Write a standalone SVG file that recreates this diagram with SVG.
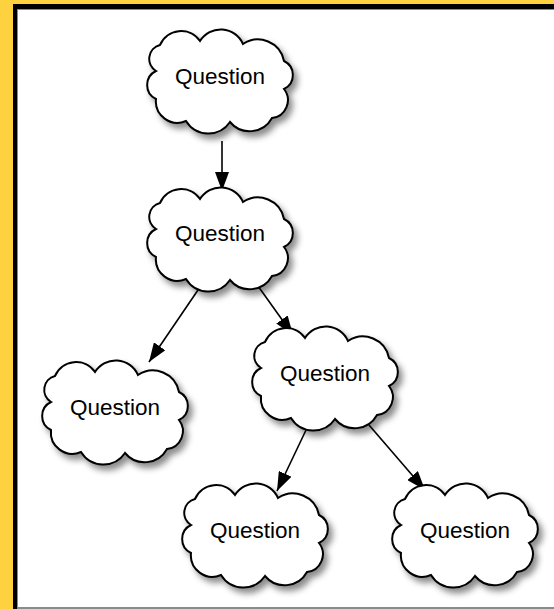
<svg xmlns="http://www.w3.org/2000/svg" xmlns:xlink="http://www.w3.org/1999/xlink" width="554" height="609" viewBox="0 0 554 609">
<style>
.cloud{fill:#fff;stroke:#000;stroke-width:2;filter:url(#sh)}
.lbl{font-family:"Liberation Sans",Arial,sans-serif;font-size:22.5px;text-anchor:middle;fill:#000}
.edge{stroke:#000;stroke-width:1.6;fill:none;marker-end:url(#ah)}
</style>
<defs>
<filter id="sh" x="-20%" y="-20%" width="150%" height="150%">
<feDropShadow dx="4" dy="5" stdDeviation="3" flood-color="#000" flood-opacity="0.45"/>
</filter>
<marker id="ah" markerUnits="userSpaceOnUse" markerWidth="20" markerHeight="14" refX="19" refY="7" orient="auto">
<path d="M0,0 L19,7 L0,14 z" fill="#000"/>
</marker>
<path id="cl" d="M-60,-36 A22.9,22.9 0 0 1 -20,-40 A24.3,24.3 0 0 1 23,-37 A26.6,26.6 0 0 1 64,-20 A15.5,15.5 0 0 1 64,8 A18,18 0 0 1 52,37 A25.5,25.5 0 0 1 10,41 A26.2,26.2 0 0 1 -34,40 A21.5,21.5 0 0 1 -64,18 A15.5,15.5 0 0 1 -64,-10 A14.3,14.3 0 0 1 -60,-36 Z"/>
</defs>
<rect x="0" y="0" width="554" height="609" fill="#FDD23E"/>
<rect x="13" y="4" width="541" height="605" fill="#000"/>
<rect x="17" y="9" width="537" height="600" fill="#8a8a8a"/>
<rect x="18" y="10" width="536" height="597" fill="#fff"/>
<g id="edges">
<line class="edge" x1="222" y1="141" x2="222" y2="191"/>
<line class="edge" x1="198" y1="290" x2="149" y2="362"/>
<line class="edge" x1="258" y1="286" x2="293" y2="335"/>
<line class="edge" x1="307" y1="428" x2="277" y2="491"/>
<line class="edge" x1="369" y1="425" x2="425" y2="490"/>
</g>
<g id="q1"><use href="#cl" class="cloud" transform="translate(220,81)"/><text class="lbl" x="220" y="84">Question</text></g>
<g id="q2"><use href="#cl" class="cloud" transform="translate(220,239)"/><text class="lbl" x="220" y="241">Question</text></g>
<g id="q3"><use href="#cl" class="cloud" transform="translate(115,412)"/><text class="lbl" x="115" y="415">Question</text></g>
<g id="q4"><use href="#cl" class="cloud" transform="translate(325,378)"/><text class="lbl" x="325" y="381">Question</text></g>
<g id="q5"><use href="#cl" class="cloud" transform="translate(255,535)"/><text class="lbl" x="255" y="538">Question</text></g>
<g id="q6"><use href="#cl" class="cloud" transform="translate(465,535)"/><text class="lbl" x="465" y="538">Question</text></g>
</svg>
